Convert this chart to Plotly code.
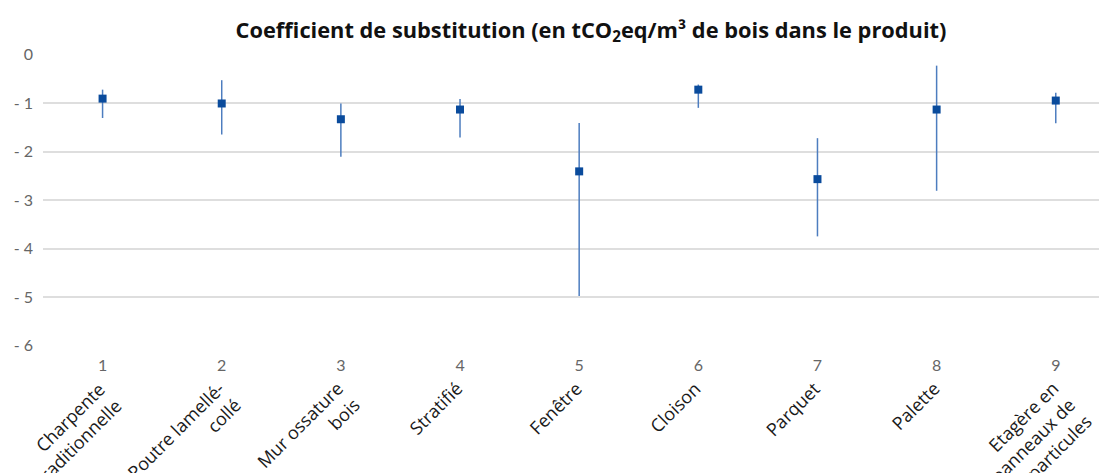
import math
import plotly.graph_objects as go

categories = ["Charpente<br>traditionnelle", "Poutre lamellé-<br>collé", "Mur ossature<br>bois",
              "Stratifié", "Fenêtre", "Cloison", "Parquet", "Palette",
              "Etagère en<br>panneaux de<br>particules"]
positions = [1, 2, 3, 4, 5, 6, 7, 8, 9]
central = [-0.91, -1.01, -1.335, -1.135, -2.41, -0.725, -2.57, -1.135, -0.95]
upper = [-0.725, -0.53, -1.01, -0.92, -1.41, -0.62, -1.725, -0.23, -0.79]
lower = [-1.31, -1.65, -2.11, -1.71, -4.98, -1.10, -3.75, -2.81, -1.42]
ytick_vals = [0, -1, -2, -3, -4, -5, -6]
ytick_text = ["0", "- 1", "- 2", "- 3", "- 4", "- 5", "- 6"]

err_plus = [u - c for u, c in zip(upper, central)]
err_minus = [c - l for c, l in zip(central, lower)]

fig = go.Figure()
fig.add_trace(go.Scatter(
    x=positions, y=central, mode="markers",
    marker=dict(symbol="square", size=8, color="#0a4b9c"),
    error_y=dict(type="data", symmetric=False, array=err_plus, arrayminus=err_minus,
                 color="#4d7dbf", thickness=1.5, width=0),
    showlegend=False,
))

lab_size = 18
line_step = 1.3 * lab_size / math.sqrt(2)
for p, lab in zip(positions, categories):
    n = lab.count("<br>") + 1
    fig.add_annotation(x=p, xref="x", y=-0.095, yref="paper", text=lab, showarrow=False,
                       textangle=-45, xanchor="right", yanchor="top", align="right",
                       xshift=10 - line_step + n * line_step,
                       font=dict(family="Open Sans", size=lab_size, color="#1a1a1a"))

fig.update_layout(
    width=1099, height=465,
    margin=dict(l=35, r=0, t=46, b=127, autoexpand=False),
    paper_bgcolor="white", plot_bgcolor="white",
    title=dict(text="Coefficient de substitution (en tCO<sub>2</sub>eq/m³ de bois dans le produit)",
               x=0.5305, xanchor="center", y=1 - 22 / 465, yanchor="middle", yref="container",
               font=dict(family="Open Sans", size=21.8, color="#111111", weight="bold")),
    xaxis=dict(range=[0.5, 9.43], tickvals=positions, ticktext=[str(p) for p in positions],
               showgrid=False, zeroline=False, showline=False, ticks="", ticklen=0,
               automargin=False,
               tickfont=dict(family="Lato", size=16, color="#666666"), ticklabelstandoff=8),
    yaxis=dict(range=[-6.01, 0.01], tickvals=ytick_vals, ticktext=ytick_text,
               showgrid=True, gridcolor="#dedede", gridwidth=1.5, zeroline=False,
               showline=False, ticks="", ticklen=0, automargin=False,
               tickfont=dict(family="Lato", size=16, color="#666666"), ticklabelstandoff=9),
)

fig.write_html("out.html")
